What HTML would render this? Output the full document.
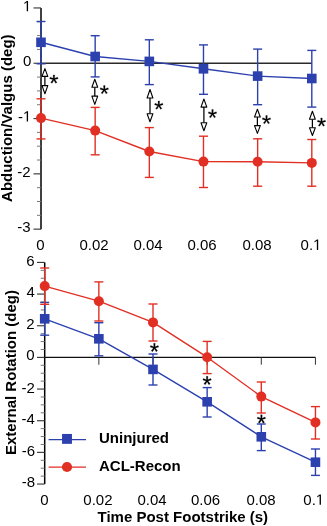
<!DOCTYPE html>
<html><head><meta charset="utf-8"><style>
html,body{margin:0;padding:0;background:#fff;overflow:hidden;}
svg{display:block;font-family:"Liberation Sans",sans-serif;will-change:transform;}
</style></head><body>
<svg width="327" height="526" viewBox="0 0 327 526">
<line x1="41.00" y1="7.95" x2="41.00" y2="229.15" stroke="#000" stroke-width="1.5"/>
<line x1="33.50" y1="229.15" x2="41.00" y2="229.15" stroke="#3a3a3a" stroke-width="1.15"/>
<line x1="37.00" y1="215.32" x2="41.00" y2="215.32" stroke="#777" stroke-width="1.0"/>
<line x1="37.00" y1="201.50" x2="41.00" y2="201.50" stroke="#777" stroke-width="1.0"/>
<line x1="37.00" y1="187.68" x2="41.00" y2="187.68" stroke="#777" stroke-width="1.0"/>
<line x1="33.50" y1="173.85" x2="41.00" y2="173.85" stroke="#3a3a3a" stroke-width="1.15"/>
<line x1="37.00" y1="160.02" x2="41.00" y2="160.02" stroke="#777" stroke-width="1.0"/>
<line x1="37.00" y1="146.20" x2="41.00" y2="146.20" stroke="#777" stroke-width="1.0"/>
<line x1="37.00" y1="132.38" x2="41.00" y2="132.38" stroke="#777" stroke-width="1.0"/>
<line x1="33.50" y1="118.55" x2="41.00" y2="118.55" stroke="#3a3a3a" stroke-width="1.15"/>
<line x1="37.00" y1="104.72" x2="41.00" y2="104.72" stroke="#777" stroke-width="1.0"/>
<line x1="37.00" y1="90.90" x2="41.00" y2="90.90" stroke="#777" stroke-width="1.0"/>
<line x1="37.00" y1="77.08" x2="41.00" y2="77.08" stroke="#777" stroke-width="1.0"/>
<line x1="33.50" y1="63.25" x2="41.00" y2="63.25" stroke="#3a3a3a" stroke-width="1.15"/>
<line x1="37.00" y1="49.42" x2="41.00" y2="49.42" stroke="#777" stroke-width="1.0"/>
<line x1="37.00" y1="35.60" x2="41.00" y2="35.60" stroke="#777" stroke-width="1.0"/>
<line x1="37.00" y1="21.78" x2="41.00" y2="21.78" stroke="#777" stroke-width="1.0"/>
<line x1="33.50" y1="7.95" x2="41.00" y2="7.95" stroke="#3a3a3a" stroke-width="1.15"/>
<line x1="41.00" y1="63.25" x2="311.80" y2="63.25" stroke="#2a2a2a" stroke-width="1.6"/>
<text x="22.96" y="11.35" font-size="15"> </text>
<path transform="translate(22.96,11.35) scale(0.007324,-0.007324)" d="M515,0 L515,1237 L197,1010 L197,1180 L530,1409 L696,1409 L696,0 Z" fill="#000"/>
<text x="22.96" y="65.85" font-size="15">0</text>
<text x="17.96" y="121.55" font-size="15">- </text>
<path transform="translate(22.96,121.55) scale(0.007324,-0.007324)" d="M515,0 L515,1237 L197,1010 L197,1180 L530,1409 L696,1409 L696,0 Z" fill="#000"/>
<text x="17.26" y="176.75" font-size="15">-2</text>
<text x="17.16" y="232.05" font-size="15">-3</text>
<text x="36.28" y="249.90" font-size="15">0</text>
<text x="79.40" y="249.90" font-size="15">0.02</text>
<text x="133.40" y="249.90" font-size="15">0.04</text>
<text x="187.45" y="249.90" font-size="15">0.06</text>
<text x="242.40" y="249.90" font-size="15">0.08</text>
<text x="300.57" y="249.90" font-size="15">0. </text>
<path transform="translate(313.08,249.90) scale(0.007324,-0.007324)" d="M515,0 L515,1237 L197,1010 L197,1180 L530,1409 L696,1409 L696,0 Z" fill="#000"/>
<line x1="41.00" y1="21.50" x2="41.00" y2="63.80" stroke="#2c41ae" stroke-width="1.4"/>
<line x1="36.50" y1="21.50" x2="45.50" y2="21.50" stroke="#2c41ae" stroke-width="1.4"/>
<line x1="36.50" y1="63.80" x2="45.50" y2="63.80" stroke="#2c41ae" stroke-width="1.4"/>
<line x1="95.16" y1="35.70" x2="95.16" y2="76.90" stroke="#2c41ae" stroke-width="1.4"/>
<line x1="90.66" y1="35.70" x2="99.66" y2="35.70" stroke="#2c41ae" stroke-width="1.4"/>
<line x1="90.66" y1="76.90" x2="99.66" y2="76.90" stroke="#2c41ae" stroke-width="1.4"/>
<line x1="149.32" y1="39.80" x2="149.32" y2="84.60" stroke="#2c41ae" stroke-width="1.4"/>
<line x1="144.82" y1="39.80" x2="153.82" y2="39.80" stroke="#2c41ae" stroke-width="1.4"/>
<line x1="144.82" y1="84.60" x2="153.82" y2="84.60" stroke="#2c41ae" stroke-width="1.4"/>
<line x1="203.48" y1="44.90" x2="203.48" y2="94.30" stroke="#2c41ae" stroke-width="1.4"/>
<line x1="198.98" y1="44.90" x2="207.98" y2="44.90" stroke="#2c41ae" stroke-width="1.4"/>
<line x1="198.98" y1="94.30" x2="207.98" y2="94.30" stroke="#2c41ae" stroke-width="1.4"/>
<line x1="257.64" y1="49.10" x2="257.64" y2="104.70" stroke="#2c41ae" stroke-width="1.4"/>
<line x1="253.14" y1="49.10" x2="262.14" y2="49.10" stroke="#2c41ae" stroke-width="1.4"/>
<line x1="253.14" y1="104.70" x2="262.14" y2="104.70" stroke="#2c41ae" stroke-width="1.4"/>
<line x1="311.80" y1="50.40" x2="311.80" y2="107.10" stroke="#2c41ae" stroke-width="1.4"/>
<line x1="307.30" y1="50.40" x2="316.30" y2="50.40" stroke="#2c41ae" stroke-width="1.4"/>
<line x1="307.30" y1="107.10" x2="316.30" y2="107.10" stroke="#2c41ae" stroke-width="1.4"/>
<line x1="41.00" y1="98.80" x2="41.00" y2="138.90" stroke="#e12f24" stroke-width="1.4"/>
<line x1="36.50" y1="98.80" x2="45.50" y2="98.80" stroke="#e12f24" stroke-width="1.4"/>
<line x1="36.50" y1="138.90" x2="45.50" y2="138.90" stroke="#e12f24" stroke-width="1.4"/>
<line x1="95.16" y1="107.40" x2="95.16" y2="154.80" stroke="#e12f24" stroke-width="1.4"/>
<line x1="90.66" y1="107.40" x2="99.66" y2="107.40" stroke="#e12f24" stroke-width="1.4"/>
<line x1="90.66" y1="154.80" x2="99.66" y2="154.80" stroke="#e12f24" stroke-width="1.4"/>
<line x1="149.32" y1="127.60" x2="149.32" y2="177.40" stroke="#e12f24" stroke-width="1.4"/>
<line x1="144.82" y1="127.60" x2="153.82" y2="127.60" stroke="#e12f24" stroke-width="1.4"/>
<line x1="144.82" y1="177.40" x2="153.82" y2="177.40" stroke="#e12f24" stroke-width="1.4"/>
<line x1="203.48" y1="136.20" x2="203.48" y2="187.50" stroke="#e12f24" stroke-width="1.4"/>
<line x1="198.98" y1="136.20" x2="207.98" y2="136.20" stroke="#e12f24" stroke-width="1.4"/>
<line x1="198.98" y1="187.50" x2="207.98" y2="187.50" stroke="#e12f24" stroke-width="1.4"/>
<line x1="257.64" y1="138.80" x2="257.64" y2="186.20" stroke="#e12f24" stroke-width="1.4"/>
<line x1="253.14" y1="138.80" x2="262.14" y2="138.80" stroke="#e12f24" stroke-width="1.4"/>
<line x1="253.14" y1="186.20" x2="262.14" y2="186.20" stroke="#e12f24" stroke-width="1.4"/>
<line x1="311.80" y1="139.50" x2="311.80" y2="186.20" stroke="#e12f24" stroke-width="1.4"/>
<line x1="307.30" y1="139.50" x2="316.30" y2="139.50" stroke="#e12f24" stroke-width="1.4"/>
<line x1="307.30" y1="186.20" x2="316.30" y2="186.20" stroke="#e12f24" stroke-width="1.4"/>
<polyline points="41.00,42.30 95.16,56.50 149.32,61.40 203.48,68.80 257.64,76.10 311.80,78.50" fill="none" stroke="#2c41ae" stroke-width="1.4" stroke-linejoin="round"/>
<polyline points="41.00,118.10 95.16,130.60 149.32,151.50 203.48,161.60 257.64,161.70 311.80,162.90" fill="none" stroke="#e12f24" stroke-width="1.4" stroke-linejoin="round"/>
<rect x="36.20" y="37.50" width="9.6" height="9.6" fill="#2c41ae"/>
<rect x="90.36" y="51.70" width="9.6" height="9.6" fill="#2c41ae"/>
<rect x="144.52" y="56.60" width="9.6" height="9.6" fill="#2c41ae"/>
<rect x="198.68" y="64.00" width="9.6" height="9.6" fill="#2c41ae"/>
<rect x="252.84" y="71.30" width="9.6" height="9.6" fill="#2c41ae"/>
<rect x="307.00" y="73.70" width="9.6" height="9.6" fill="#2c41ae"/>
<circle cx="41.00" cy="118.10" r="5" fill="#e12f24"/>
<circle cx="95.16" cy="130.60" r="5" fill="#e12f24"/>
<circle cx="149.32" cy="151.50" r="5" fill="#e12f24"/>
<circle cx="203.48" cy="161.60" r="5" fill="#e12f24"/>
<circle cx="257.64" cy="161.70" r="5" fill="#e12f24"/>
<circle cx="311.80" cy="162.90" r="5" fill="#e12f24"/>
<line x1="44.90" y1="76.40" x2="44.90" y2="85.60" stroke="#000" stroke-width="1.25"/>
<path d="M44.90,68.60 L47.80,76.40 L42.00,76.40 Z" fill="#fff" stroke="#000" stroke-width="1.1" stroke-linejoin="round"/>
<path d="M44.90,93.80 L47.80,85.60 L42.00,85.60 Z" fill="#fff" stroke="#000" stroke-width="1.1" stroke-linejoin="round"/>
<line x1="94.80" y1="87.20" x2="94.80" y2="96.10" stroke="#000" stroke-width="1.25"/>
<path d="M94.80,79.20 L97.70,87.20 L91.90,87.20 Z" fill="#fff" stroke="#000" stroke-width="1.1" stroke-linejoin="round"/>
<path d="M94.80,104.40 L97.70,96.10 L91.90,96.10 Z" fill="#fff" stroke="#000" stroke-width="1.1" stroke-linejoin="round"/>
<line x1="150.00" y1="98.00" x2="150.00" y2="113.70" stroke="#000" stroke-width="1.25"/>
<path d="M150.00,89.50 L152.90,98.00 L147.10,98.00 Z" fill="#fff" stroke="#000" stroke-width="1.1" stroke-linejoin="round"/>
<path d="M150.00,121.80 L152.90,113.70 L147.10,113.70 Z" fill="#fff" stroke="#000" stroke-width="1.1" stroke-linejoin="round"/>
<line x1="203.90" y1="107.10" x2="203.90" y2="122.80" stroke="#000" stroke-width="1.25"/>
<path d="M203.90,99.00 L206.80,107.10 L201.00,107.10 Z" fill="#fff" stroke="#000" stroke-width="1.1" stroke-linejoin="round"/>
<path d="M203.90,130.80 L206.80,122.80 L201.00,122.80 Z" fill="#fff" stroke="#000" stroke-width="1.1" stroke-linejoin="round"/>
<line x1="257.40" y1="117.00" x2="257.40" y2="125.60" stroke="#000" stroke-width="1.25"/>
<path d="M257.40,109.30 L260.30,117.00 L254.50,117.00 Z" fill="#fff" stroke="#000" stroke-width="1.1" stroke-linejoin="round"/>
<path d="M257.40,133.40 L260.30,125.60 L254.50,125.60 Z" fill="#fff" stroke="#000" stroke-width="1.1" stroke-linejoin="round"/>
<line x1="312.40" y1="119.20" x2="312.40" y2="127.80" stroke="#000" stroke-width="1.25"/>
<path d="M312.40,111.20 L315.30,119.20 L309.50,119.20 Z" fill="#fff" stroke="#000" stroke-width="1.1" stroke-linejoin="round"/>
<path d="M312.40,135.50 L315.30,127.80 L309.50,127.80 Z" fill="#fff" stroke="#000" stroke-width="1.1" stroke-linejoin="round"/>
<path transform="translate(49.27,91.27) scale(0.0116,-0.0116)" d="M456 1114 720 1217 765 1085 483 1012 668 762 549 690 399 948 243 692 124 764 313 1012 33 1085 78 1219 345 1112 333 1409H469Z" fill="#000" stroke="#000" stroke-width="21.6"/>
<path transform="translate(99.67,101.87) scale(0.0116,-0.0116)" d="M456 1114 720 1217 765 1085 483 1012 668 762 549 690 399 948 243 692 124 764 313 1012 33 1085 78 1219 345 1112 333 1409H469Z" fill="#000" stroke="#000" stroke-width="21.6"/>
<path transform="translate(154.17,117.37) scale(0.0116,-0.0116)" d="M456 1114 720 1217 765 1085 483 1012 668 762 549 690 399 948 243 692 124 764 313 1012 33 1085 78 1219 345 1112 333 1409H469Z" fill="#000" stroke="#000" stroke-width="21.6"/>
<path transform="translate(207.87,125.87) scale(0.0116,-0.0116)" d="M456 1114 720 1217 765 1085 483 1012 668 762 549 690 399 948 243 692 124 764 313 1012 33 1085 78 1219 345 1112 333 1409H469Z" fill="#000" stroke="#000" stroke-width="21.6"/>
<path transform="translate(261.87,131.87) scale(0.0116,-0.0116)" d="M456 1114 720 1217 765 1085 483 1012 668 762 549 690 399 948 243 692 124 764 313 1012 33 1085 78 1219 345 1112 333 1409H469Z" fill="#000" stroke="#000" stroke-width="21.6"/>
<path transform="translate(316.87,134.27) scale(0.0116,-0.0116)" d="M456 1114 720 1217 765 1085 483 1012 668 762 549 690 399 948 243 692 124 764 313 1012 33 1085 78 1219 345 1112 333 1409H469Z" fill="#000" stroke="#000" stroke-width="21.6"/>
<text transform="translate(11.6,118.2) rotate(-90)" font-size="15" font-weight="bold" text-anchor="middle">Abduction/Valgus (deg)</text>
<line x1="44.70" y1="262.42" x2="44.70" y2="484.04" stroke="#000" stroke-width="1.5"/>
<line x1="37.00" y1="484.04" x2="44.70" y2="484.04" stroke="#3a3a3a" stroke-width="1.15"/>
<line x1="40.70" y1="476.12" x2="44.70" y2="476.12" stroke="#777" stroke-width="1.0"/>
<line x1="40.70" y1="468.21" x2="44.70" y2="468.21" stroke="#777" stroke-width="1.0"/>
<line x1="40.70" y1="460.29" x2="44.70" y2="460.29" stroke="#777" stroke-width="1.0"/>
<line x1="37.00" y1="452.38" x2="44.70" y2="452.38" stroke="#3a3a3a" stroke-width="1.15"/>
<line x1="40.70" y1="444.46" x2="44.70" y2="444.46" stroke="#777" stroke-width="1.0"/>
<line x1="40.70" y1="436.55" x2="44.70" y2="436.55" stroke="#777" stroke-width="1.0"/>
<line x1="40.70" y1="428.63" x2="44.70" y2="428.63" stroke="#777" stroke-width="1.0"/>
<line x1="37.00" y1="420.72" x2="44.70" y2="420.72" stroke="#3a3a3a" stroke-width="1.15"/>
<line x1="40.70" y1="412.80" x2="44.70" y2="412.80" stroke="#777" stroke-width="1.0"/>
<line x1="40.70" y1="404.89" x2="44.70" y2="404.89" stroke="#777" stroke-width="1.0"/>
<line x1="40.70" y1="396.97" x2="44.70" y2="396.97" stroke="#777" stroke-width="1.0"/>
<line x1="37.00" y1="389.06" x2="44.70" y2="389.06" stroke="#3a3a3a" stroke-width="1.15"/>
<line x1="40.70" y1="381.14" x2="44.70" y2="381.14" stroke="#777" stroke-width="1.0"/>
<line x1="40.70" y1="373.23" x2="44.70" y2="373.23" stroke="#777" stroke-width="1.0"/>
<line x1="40.70" y1="365.31" x2="44.70" y2="365.31" stroke="#777" stroke-width="1.0"/>
<line x1="37.00" y1="357.40" x2="44.70" y2="357.40" stroke="#3a3a3a" stroke-width="1.15"/>
<line x1="40.70" y1="349.48" x2="44.70" y2="349.48" stroke="#777" stroke-width="1.0"/>
<line x1="40.70" y1="341.57" x2="44.70" y2="341.57" stroke="#777" stroke-width="1.0"/>
<line x1="40.70" y1="333.65" x2="44.70" y2="333.65" stroke="#777" stroke-width="1.0"/>
<line x1="37.00" y1="325.74" x2="44.70" y2="325.74" stroke="#3a3a3a" stroke-width="1.15"/>
<line x1="40.70" y1="317.82" x2="44.70" y2="317.82" stroke="#777" stroke-width="1.0"/>
<line x1="40.70" y1="309.91" x2="44.70" y2="309.91" stroke="#777" stroke-width="1.0"/>
<line x1="40.70" y1="302.00" x2="44.70" y2="302.00" stroke="#777" stroke-width="1.0"/>
<line x1="37.00" y1="294.08" x2="44.70" y2="294.08" stroke="#3a3a3a" stroke-width="1.15"/>
<line x1="40.70" y1="286.16" x2="44.70" y2="286.16" stroke="#777" stroke-width="1.0"/>
<line x1="40.70" y1="278.25" x2="44.70" y2="278.25" stroke="#777" stroke-width="1.0"/>
<line x1="40.70" y1="270.33" x2="44.70" y2="270.33" stroke="#777" stroke-width="1.0"/>
<line x1="37.00" y1="262.42" x2="44.70" y2="262.42" stroke="#3a3a3a" stroke-width="1.15"/>
<line x1="44.70" y1="357.40" x2="315.50" y2="357.40" stroke="#111" stroke-width="1.3"/>
<line x1="98.85" y1="357.40" x2="98.85" y2="364.70" stroke="#333" stroke-width="1.0"/>
<line x1="153.00" y1="357.40" x2="153.00" y2="364.70" stroke="#333" stroke-width="1.0"/>
<line x1="207.15" y1="357.40" x2="207.15" y2="364.70" stroke="#333" stroke-width="1.0"/>
<line x1="261.30" y1="357.40" x2="261.30" y2="364.70" stroke="#333" stroke-width="1.0"/>
<line x1="315.45" y1="357.40" x2="315.45" y2="364.70" stroke="#333" stroke-width="1.0"/>
<text x="26.36" y="265.82" font-size="15">6</text>
<text x="26.56" y="297.48" font-size="15">4</text>
<text x="26.36" y="328.84" font-size="15">2</text>
<text x="26.36" y="359.80" font-size="15">0</text>
<text x="21.56" y="393.06" font-size="15">-2</text>
<text x="21.56" y="424.12" font-size="15">-4</text>
<text x="21.66" y="455.78" font-size="15">-6</text>
<text x="21.66" y="487.44" font-size="15">-8</text>
<text x="40.28" y="504.80" font-size="15">0</text>
<text x="83.35" y="504.80" font-size="15">0.02</text>
<text x="137.45" y="504.80" font-size="15">0.04</text>
<text x="190.90" y="504.80" font-size="15">0.06</text>
<text x="246.40" y="504.80" font-size="15">0.08</text>
<text x="303.32" y="504.80" font-size="15">0. </text>
<path transform="translate(315.83,504.80) scale(0.007324,-0.007324)" d="M515,0 L515,1237 L197,1010 L197,1180 L530,1409 L696,1409 L696,0 Z" fill="#000"/>
<line x1="44.70" y1="302.40" x2="44.70" y2="335.20" stroke="#2c41ae" stroke-width="1.4"/>
<line x1="40.20" y1="302.40" x2="49.20" y2="302.40" stroke="#2c41ae" stroke-width="1.4"/>
<line x1="40.20" y1="335.20" x2="49.20" y2="335.20" stroke="#2c41ae" stroke-width="1.4"/>
<line x1="98.85" y1="322.70" x2="98.85" y2="355.80" stroke="#2c41ae" stroke-width="1.4"/>
<line x1="94.35" y1="322.70" x2="103.35" y2="322.70" stroke="#2c41ae" stroke-width="1.4"/>
<line x1="94.35" y1="355.80" x2="103.35" y2="355.80" stroke="#2c41ae" stroke-width="1.4"/>
<line x1="153.00" y1="354.00" x2="153.00" y2="385.00" stroke="#2c41ae" stroke-width="1.4"/>
<line x1="148.50" y1="354.00" x2="157.50" y2="354.00" stroke="#2c41ae" stroke-width="1.4"/>
<line x1="148.50" y1="385.00" x2="157.50" y2="385.00" stroke="#2c41ae" stroke-width="1.4"/>
<line x1="207.15" y1="387.60" x2="207.15" y2="417.00" stroke="#2c41ae" stroke-width="1.4"/>
<line x1="202.65" y1="387.60" x2="211.65" y2="387.60" stroke="#2c41ae" stroke-width="1.4"/>
<line x1="202.65" y1="417.00" x2="211.65" y2="417.00" stroke="#2c41ae" stroke-width="1.4"/>
<line x1="261.30" y1="424.00" x2="261.30" y2="450.60" stroke="#2c41ae" stroke-width="1.4"/>
<line x1="256.80" y1="424.00" x2="265.80" y2="424.00" stroke="#2c41ae" stroke-width="1.4"/>
<line x1="256.80" y1="450.60" x2="265.80" y2="450.60" stroke="#2c41ae" stroke-width="1.4"/>
<line x1="315.45" y1="449.00" x2="315.45" y2="475.40" stroke="#2c41ae" stroke-width="1.4"/>
<line x1="310.95" y1="449.00" x2="319.95" y2="449.00" stroke="#2c41ae" stroke-width="1.4"/>
<line x1="310.95" y1="475.40" x2="319.95" y2="475.40" stroke="#2c41ae" stroke-width="1.4"/>
<line x1="44.70" y1="268.00" x2="44.70" y2="304.30" stroke="#e12f24" stroke-width="1.4"/>
<line x1="40.20" y1="268.00" x2="49.20" y2="268.00" stroke="#e12f24" stroke-width="1.4"/>
<line x1="40.20" y1="304.30" x2="49.20" y2="304.30" stroke="#e12f24" stroke-width="1.4"/>
<line x1="98.85" y1="281.90" x2="98.85" y2="321.00" stroke="#e12f24" stroke-width="1.4"/>
<line x1="94.35" y1="281.90" x2="103.35" y2="281.90" stroke="#e12f24" stroke-width="1.4"/>
<line x1="94.35" y1="321.00" x2="103.35" y2="321.00" stroke="#e12f24" stroke-width="1.4"/>
<line x1="153.00" y1="304.00" x2="153.00" y2="341.00" stroke="#e12f24" stroke-width="1.4"/>
<line x1="148.50" y1="304.00" x2="157.50" y2="304.00" stroke="#e12f24" stroke-width="1.4"/>
<line x1="148.50" y1="341.00" x2="157.50" y2="341.00" stroke="#e12f24" stroke-width="1.4"/>
<line x1="207.15" y1="341.40" x2="207.15" y2="373.60" stroke="#e12f24" stroke-width="1.4"/>
<line x1="202.65" y1="341.40" x2="211.65" y2="341.40" stroke="#e12f24" stroke-width="1.4"/>
<line x1="202.65" y1="373.60" x2="211.65" y2="373.60" stroke="#e12f24" stroke-width="1.4"/>
<line x1="261.30" y1="382.00" x2="261.30" y2="413.00" stroke="#e12f24" stroke-width="1.4"/>
<line x1="256.80" y1="382.00" x2="265.80" y2="382.00" stroke="#e12f24" stroke-width="1.4"/>
<line x1="256.80" y1="413.00" x2="265.80" y2="413.00" stroke="#e12f24" stroke-width="1.4"/>
<line x1="315.45" y1="406.60" x2="315.45" y2="439.00" stroke="#e12f24" stroke-width="1.4"/>
<line x1="310.95" y1="406.60" x2="319.95" y2="406.60" stroke="#e12f24" stroke-width="1.4"/>
<line x1="310.95" y1="439.00" x2="319.95" y2="439.00" stroke="#e12f24" stroke-width="1.4"/>
<polyline points="44.70,318.80 98.85,338.80 153.00,369.40 207.15,401.80 261.30,436.80 315.45,462.20" fill="none" stroke="#2c41ae" stroke-width="1.4" stroke-linejoin="round"/>
<polyline points="44.70,286.10 98.85,301.20 153.00,322.40 207.15,357.20 261.30,396.60 315.45,422.40" fill="none" stroke="#e12f24" stroke-width="1.4" stroke-linejoin="round"/>
<rect x="39.90" y="314.00" width="9.6" height="9.6" fill="#2c41ae"/>
<rect x="94.05" y="334.00" width="9.6" height="9.6" fill="#2c41ae"/>
<rect x="148.20" y="364.60" width="9.6" height="9.6" fill="#2c41ae"/>
<rect x="202.35" y="397.00" width="9.6" height="9.6" fill="#2c41ae"/>
<rect x="256.50" y="432.00" width="9.6" height="9.6" fill="#2c41ae"/>
<rect x="310.65" y="457.40" width="9.6" height="9.6" fill="#2c41ae"/>
<circle cx="44.70" cy="286.10" r="5" fill="#e12f24"/>
<circle cx="98.85" cy="301.20" r="5" fill="#e12f24"/>
<circle cx="153.00" cy="322.40" r="5" fill="#e12f24"/>
<circle cx="207.15" cy="357.20" r="5" fill="#e12f24"/>
<circle cx="261.30" cy="396.60" r="5" fill="#e12f24"/>
<circle cx="315.45" cy="422.40" r="5" fill="#e12f24"/>
<path transform="translate(149.77,359.67) scale(0.0116,-0.0116)" d="M456 1114 720 1217 765 1085 483 1012 668 762 549 690 399 948 243 692 124 764 313 1012 33 1085 78 1219 345 1112 333 1409H469Z" fill="#000" stroke="#000" stroke-width="21.6"/>
<path transform="translate(202.47,392.67) scale(0.0116,-0.0116)" d="M456 1114 720 1217 765 1085 483 1012 668 762 549 690 399 948 243 692 124 764 313 1012 33 1085 78 1219 345 1112 333 1409H469Z" fill="#000" stroke="#000" stroke-width="21.6"/>
<path transform="translate(256.77,431.17) scale(0.0116,-0.0116)" d="M456 1114 720 1217 765 1085 483 1012 668 762 549 690 399 948 243 692 124 764 313 1012 33 1085 78 1219 345 1112 333 1409H469Z" fill="#000" stroke="#000" stroke-width="21.6"/>
<line x1="48.60" y1="439.60" x2="86.00" y2="439.60" stroke="#2c41ae" stroke-width="1.4"/>
<rect x="62.05" y="433.95" width="9.9" height="9.9" fill="#2c41ae"/>
<line x1="48.60" y1="467.10" x2="86.00" y2="467.10" stroke="#e12f24" stroke-width="1.4"/>
<circle cx="67.00" cy="467.00" r="5.1" fill="#e12f24"/>
<text x="99" y="443.2" font-size="15" font-weight="bold" text-anchor="start" >Uninjured</text>
<text x="99" y="471" font-size="15" font-weight="bold" text-anchor="start" >ACL-Recon</text>
<text transform="translate(15.6,372.5) rotate(-90)" font-size="15" font-weight="bold" text-anchor="middle">External Rotation (deg)</text>
<text x="182.8" y="522.2" font-size="15" font-weight="bold" text-anchor="middle" >Time Post Footstrike (s)</text>
</svg>
</body></html>
